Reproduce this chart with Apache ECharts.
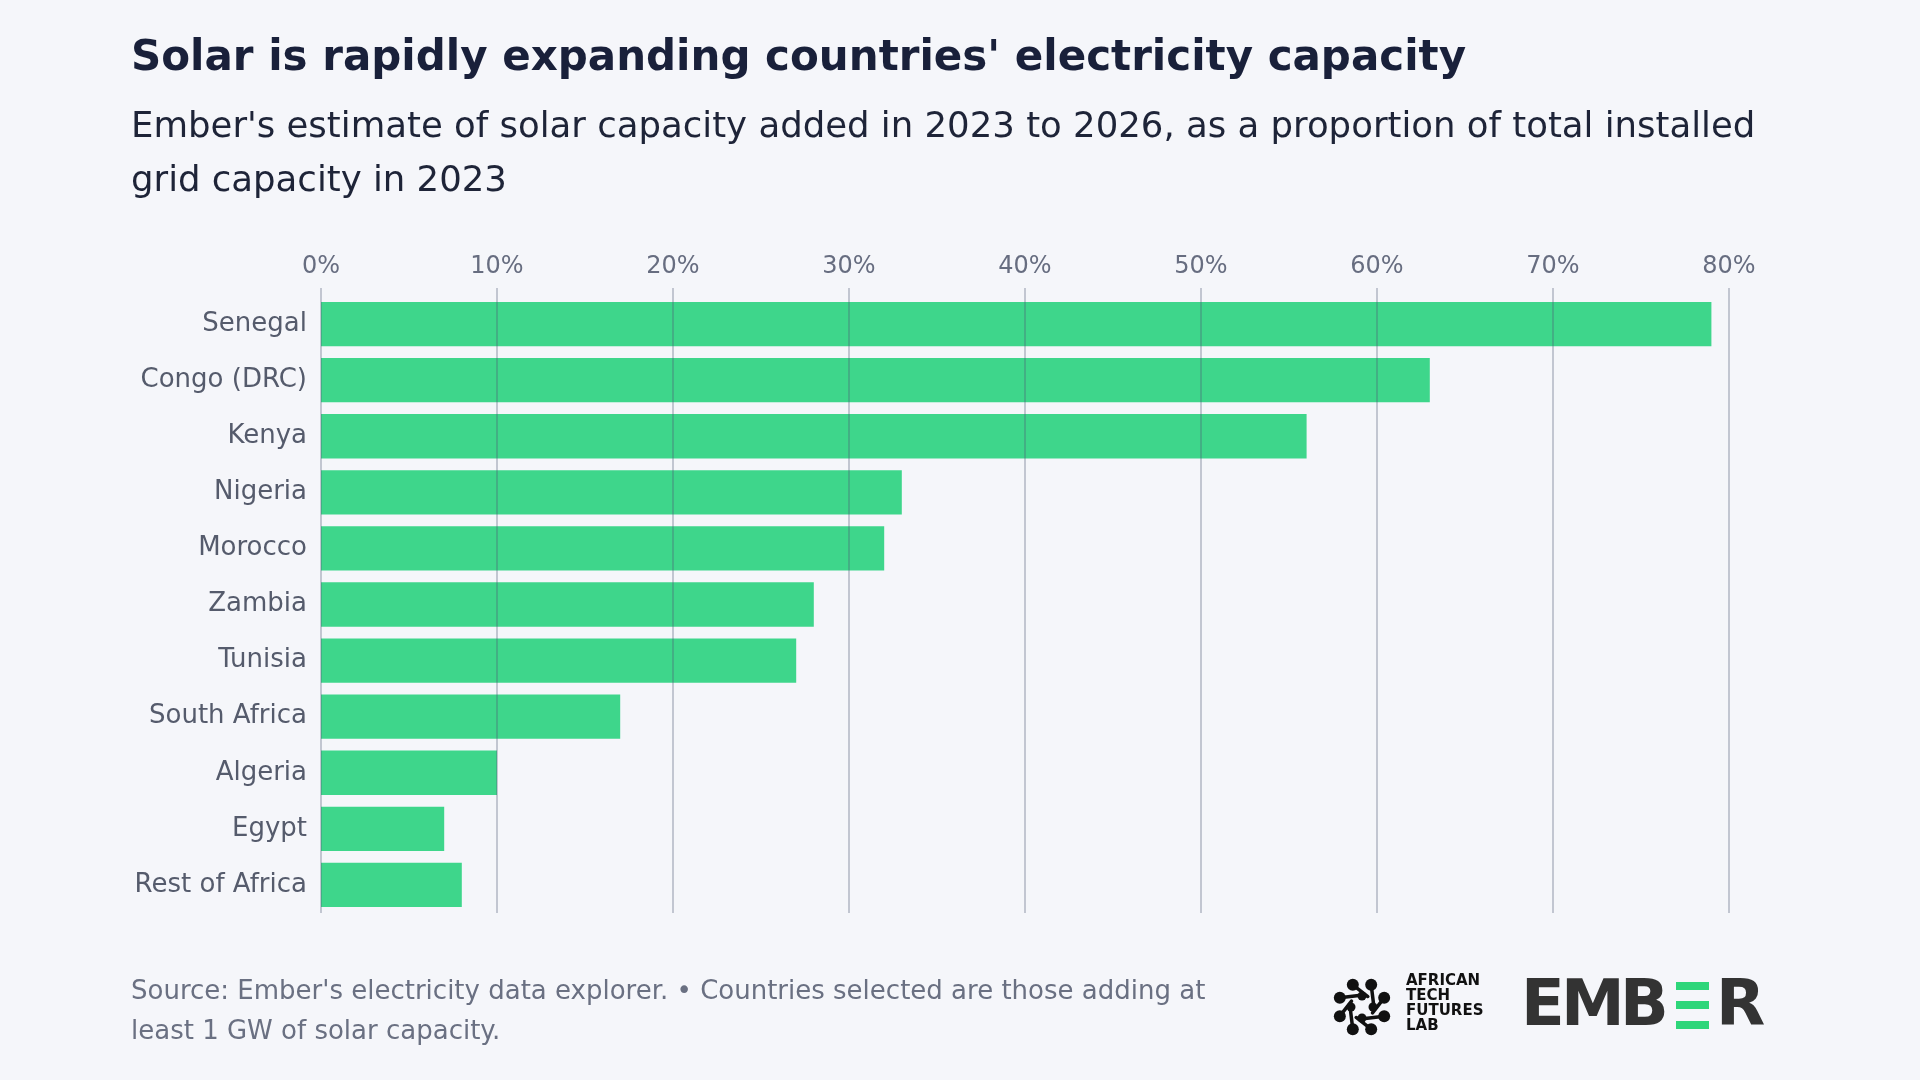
<!DOCTYPE html>
<html>
<head>
<meta charset="utf-8">
<script src="https://cdn.jsdelivr.net/npm/echarts@6/dist/echarts.min.js"></script>
<style>
html,body{margin:0;padding:0;background:#f5f6fa;}
#chart{width:1920px;height:1080px;}
</style>
</head>
<body>
<div id="chart"></div>
<script>
const categories = ['Senegal','Congo (DRC)','Kenya','Nigeria','Morocco','Zambia','Tunisia','South Africa','Algeria','Egypt','Rest of Africa'];
const values = [79, 63, 56, 33, 32, 28, 27, 17, 10, 7, 8];
const tickMin = 0, tickMax = 80, tickStep = 10;

const titleText = "Solar is rapidly expanding countries' electricity capacity";
const subtitleLines = ["Ember's estimate of solar capacity added in 2023 to 2026, as a proportion of total installed", "grid capacity in 2023"];
const footerLines = ["Source: Ember's electricity data explorer. \u2022 Countries selected are those adding at", "least 1 GW of solar capacity."];

const FONT = "'DejaVu Sans', 'Noto Sans', sans-serif";
const gridColor = 'rgba(75,85,115,0.3)';

const chart = echarts.init(document.getElementById('chart'));

// ATFL logo blobs (decorative)
const logoCx = 1362, logoCy = 1007;
const blobs = [];
for (let i = 0; i < 8; i++) {
  const a = i * Math.PI / 4 + Math.PI / 8;
  blobs.push({type:'circle', shape:{cx: logoCx + 24*Math.cos(a), cy: logoCy + 24*Math.sin(a), r: 6}, style:{fill:'#111'}});
  blobs.push({type:'line', shape:{x1: logoCx + 24*Math.cos(a), y1: logoCy + 24*Math.sin(a), x2: logoCx + 12*Math.cos(a+0.9), y2: logoCy + 12*Math.sin(a+0.9)}, style:{stroke:'#111', lineWidth:3.5, lineCap:'round'}});
}
for (let i = 0; i < 4; i++) {
  const a = i * Math.PI / 2;
  blobs.push({type:'circle', shape:{cx: logoCx + 11*Math.cos(a), cy: logoCy + 11*Math.sin(a), r: 4.5}, style:{fill:'#111'}});
}

chart.setOption({
  backgroundColor: '#f5f6fa',
  animation: false,
  grid: { left: 321, right: 191, top: 296, bottom: 167, containLabel: false },
  xAxis: {
    type: 'value', position: 'top', min: tickMin, max: tickMax, interval: tickStep, z: 5,
    axisLine: { show: false },
    axisTick: { show: true, length: 8, lineStyle: { color: gridColor, width: 2 } },
    axisLabel: { formatter: '{value}%', fontSize: 24, color: '#676d80', fontFamily: FONT, margin: 17 },
    splitLine: { show: true, lineStyle: { color: gridColor, width: 2 } }
  },
  yAxis: {
    type: 'category', inverse: true, data: categories,
    axisLine: { show: false }, axisTick: { show: false },
    axisLabel: { fontSize: 26, color: '#555b6c', fontFamily: FONT, margin: 14 }
  },
  series: [{
    type: 'bar', data: values, barCategoryGap: '21%',
    itemStyle: { color: '#3ed68b' }, z: 2
  }],
  graphic: [
    { type: 'text', left: 131, top: 38, style: { text: titleText, font: "bold 42px " + FONT, fill: '#19203a' } },
    { type: 'text', left: 131, top: 110, style: { text: subtitleLines[0], font: "35.5px " + FONT, fill: '#1e2438' } },
    { type: 'text', left: 131, top: 164, style: { text: subtitleLines[1], font: "35.5px " + FONT, fill: '#1e2438' } },
    { type: 'text', left: 131, top: 979, style: { text: footerLines[0], font: "26px " + FONT, fill: '#6a7082' } },
    { type: 'text', left: 131, top: 1019, style: { text: footerLines[1], font: "26px " + FONT, fill: '#6a7082' } },
    { type: 'group', children: blobs },
    { type: 'text', left: 1406, top: 974, style: { text: 'AFRICAN\nTECH\nFUTURES\nLAB', font: "bold 15px 'DejaVu Sans', sans-serif", lineHeight: 15, fill: '#111' } },
    { type: 'text', left: 1521, top: 976, style: { text: 'E', font: "bold 64px 'DejaVu Sans', sans-serif", fill: '#333' } },
    { type: 'text', left: 1561, top: 976, style: { text: 'M', font: "bold 64px 'DejaVu Sans', sans-serif", fill: '#333' } },
    { type: 'text', left: 1620, top: 976, style: { text: 'B', font: "bold 64px 'DejaVu Sans', sans-serif", fill: '#333' } },
    { type: 'rect', shape: { x: 1676, y: 982, width: 33, height: 8 }, style: { fill: '#2ed67a' } },
    { type: 'rect', shape: { x: 1676, y: 1001, width: 33, height: 8 }, style: { fill: '#2ed67a' } },
    { type: 'rect', shape: { x: 1676, y: 1021, width: 33, height: 8 }, style: { fill: '#2ed67a' } },
    { type: 'text', left: 1716, top: 976, style: { text: 'R', font: "bold 64px 'DejaVu Sans', sans-serif", fill: '#333' } }
  ]
});
</script>
</body>
</html>
